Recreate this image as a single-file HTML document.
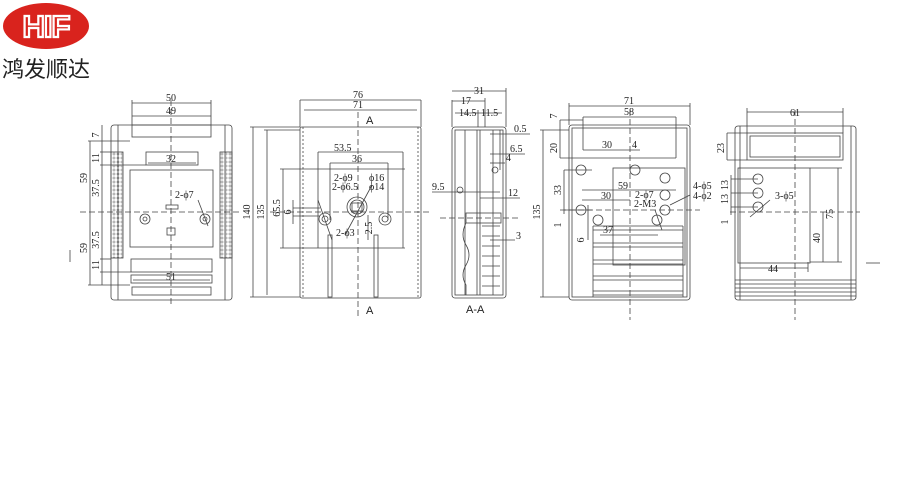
<!DOCTYPE html>
<html><head><meta charset="utf-8"><style>
html,body{margin:0;padding:0;background:#fff;width:900px;height:500px;overflow:hidden}
svg{display:block}
text{font-family:"Liberation Serif","Noto Serif CJK SC",serif;font-size:10px;fill:#222}
</style></head><body>
<svg width="900" height="500" viewBox="0 0 900 500" xmlns="http://www.w3.org/2000/svg">
<defs>
<pattern id="dots" width="4" height="4" patternUnits="userSpaceOnUse"><circle cx="2" cy="2" r="1.1" fill="none" stroke="#555" stroke-width="0.5"/></pattern>
</defs>
<!-- logo -->
<ellipse cx="46" cy="26" rx="43" ry="23" fill="#d9231d"/>
<text x="46" y="37" text-anchor="middle" style="font-family:'Liberation Sans',sans-serif;font-size:31px;font-weight:bold;fill:#d9231d;stroke:#fff;stroke-width:2.2;letter-spacing:-1px">HIF</text>
<text x="2" y="77" style="font-family:'Liberation Sans','Noto Sans CJK SC',sans-serif;font-size:22px;fill:#222">鸿发顺达</text>

<g fill="none" stroke="#444" stroke-width="0.8">
<!-- VIEW 1 -->
<rect x="111" y="125" width="121" height="175" rx="3"/>
<line x1="118" y1="125" x2="118" y2="300"/><line x1="225" y1="125" x2="225" y2="300"/>
<rect x="132" y="125" width="79" height="12"/>
<rect x="111" y="152" width="12" height="106" fill="url(#dots)"/>
<rect x="220" y="152" width="12" height="106" fill="url(#dots)"/>
<rect x="146" y="152" width="52" height="13"/>
<rect x="130" y="170" width="83" height="77"/>
<rect x="131" y="259" width="81" height="13"/>
<rect x="131" y="275" width="81" height="8"/>
<rect x="132" y="287" width="79" height="8"/>
<circle cx="145" cy="219" r="5"/><circle cx="145" cy="219" r="2"/>
<circle cx="205" cy="219" r="5"/><circle cx="205" cy="219" r="2"/>
<rect x="166" y="205" width="12" height="4"/><rect x="167" y="228" width="8" height="7"/>
<line x1="171" y1="100" x2="171" y2="305" stroke-dasharray="6,3"/>
<line x1="80" y1="212" x2="240" y2="212" stroke-dasharray="6,3"/>
<line x1="132" y1="103" x2="211" y2="103"/><line x1="132" y1="116" x2="211" y2="116"/>
<line x1="132" y1="100" x2="132" y2="125"/><line x1="211" y1="100" x2="211" y2="125"/>
<line x1="90" y1="141" x2="90" y2="285"/><line x1="102" y1="125" x2="102" y2="285"/>
<line x1="88" y1="141" x2="130" y2="141"/><line x1="88" y1="285" x2="130" y2="285"/>
<line x1="100" y1="152" x2="111" y2="152"/><line x1="100" y1="165" x2="146" y2="165"/>
<line x1="100" y1="259" x2="111" y2="259"/><line x1="100" y1="272" x2="131" y2="272"/>
<line x1="148" y1="163" x2="196" y2="163"/><line x1="133" y1="280" x2="210" y2="280"/>
<line x1="198" y1="200" x2="208" y2="226"/>

<!-- VIEW 2 -->
<rect x="300" y="127" width="121" height="171" rx="2"/>
<line x1="303" y1="127" x2="303" y2="298" stroke-dasharray="2,2"/><line x1="418" y1="127" x2="418" y2="298" stroke-dasharray="2,2"/>
<line x1="300" y1="100" x2="300" y2="127"/><line x1="421" y1="100" x2="421" y2="127"/>
<line x1="300" y1="100" x2="421" y2="100"/><line x1="304" y1="110" x2="417" y2="110"/>
<line x1="253" y1="127" x2="253" y2="297"/><line x1="267" y1="130" x2="267" y2="295"/>
<line x1="250" y1="127" x2="300" y2="127"/><line x1="264" y1="130" x2="300" y2="130"/><line x1="250" y1="297" x2="300" y2="297"/>
<line x1="358" y1="112" x2="358" y2="318" stroke-dasharray="6,3"/>
<line x1="270" y1="212" x2="430" y2="212" stroke-dasharray="6,3"/>
<line x1="318" y1="152" x2="403" y2="152"/><line x1="318" y1="152" x2="318" y2="248"/><line x1="403" y1="152" x2="403" y2="248"/>
<line x1="330" y1="163" x2="388" y2="163"/><line x1="330" y1="163" x2="330" y2="220"/><line x1="388" y1="163" x2="388" y2="220"/>
<line x1="280" y1="169" x2="405" y2="169"/><line x1="280" y1="248" x2="405" y2="248"/><line x1="283" y1="169" x2="283" y2="248"/>
<line x1="293" y1="208" x2="320" y2="208"/><line x1="293" y1="216" x2="320" y2="216"/><line x1="293" y1="200" x2="293" y2="224"/>
<circle cx="325" cy="219" r="6"/><circle cx="325" cy="219" r="3"/>
<circle cx="385" cy="219" r="6"/><circle cx="385" cy="219" r="3"/>
<circle cx="357" cy="207" r="10"/><circle cx="357" cy="207" r="7"/><rect x="352" y="203" width="10" height="8"/>
<rect x="328" y="235" width="4" height="62"/><rect x="374" y="235" width="4" height="62"/>
<line x1="318" y1="200" x2="332" y2="240"/><line x1="345" y1="235" x2="372" y2="185"/>
<line x1="368" y1="215" x2="368" y2="240"/>

<!-- VIEW 3 A-A -->
<rect x="452" y="127" width="54" height="171" rx="3"/>
<rect x="455" y="130" width="48" height="165"/>
<line x1="465" y1="130" x2="465" y2="295"/><line x1="477" y1="130" x2="477" y2="295"/><line x1="480" y1="130" x2="480" y2="295"/>
<line x1="493" y1="130" x2="493" y2="295"/><line x1="500" y1="130" x2="500" y2="170"/>
<path d="M452 100V127M506 88V127M485 98V127M478 110V127"/>
<line x1="452" y1="91" x2="506" y2="91"/><line x1="452" y1="101" x2="485" y2="101"/><line x1="455" y1="113" x2="502" y2="113"/>
<rect x="466" y="213" width="35" height="10"/>
<path d="M466 223Q460 235 466 245Q472 255 466 265Q460 275 466 285V295"/>
<path d="M482 226H500M482 236H500M482 246H500M482 256H500M482 266H500M482 276H500M482 286H500"/>
<circle cx="495" cy="170" r="3"/><circle cx="460" cy="190" r="3"/>
<line x1="432" y1="192" x2="500" y2="192"/><line x1="480" y1="198" x2="520" y2="198"/>
<line x1="490" y1="134" x2="530" y2="134"/><line x1="490" y1="154" x2="525" y2="154"/><line x1="490" y1="163" x2="505" y2="163"/>
<line x1="490" y1="240" x2="515" y2="240"/><line x1="440" y1="218" x2="520" y2="218" stroke-dasharray="6,3"/>

<!-- VIEW 4 -->
<rect x="569" y="125" width="121" height="175" rx="3"/>
<rect x="572" y="128" width="115" height="169"/>
<line x1="569" y1="106" x2="690" y2="106"/><line x1="583" y1="117" x2="676" y2="117"/>
<line x1="569" y1="103" x2="569" y2="125"/><line x1="690" y1="103" x2="690" y2="125"/>
<line x1="583" y1="117" x2="583" y2="150"/><line x1="676" y1="117" x2="676" y2="158"/>
<line x1="543" y1="130" x2="543" y2="297"/><line x1="540" y1="130" x2="569" y2="130"/><line x1="540" y1="297" x2="569" y2="297"/>
<line x1="560" y1="120" x2="583" y2="120"/><line x1="560" y1="158" x2="676" y2="158"/><line x1="560" y1="120" x2="560" y2="158"/>
<line x1="564" y1="170" x2="592" y2="170"/><line x1="564" y1="210" x2="592" y2="210"/><line x1="564" y1="170" x2="564" y2="214"/>
<line x1="583" y1="150" x2="640" y2="150"/><line x1="582" y1="190" x2="676" y2="190"/><line x1="582" y1="200" x2="630" y2="200"/>
<line x1="600" y1="235" x2="658" y2="235"/><line x1="588" y1="205" x2="588" y2="240"/>
<line x1="630" y1="110" x2="630" y2="320" stroke-dasharray="6,3"/>
<line x1="560" y1="210" x2="700" y2="210" stroke-dasharray="6,3"/>
<rect x="613" y="168" width="72" height="97"/>
<circle cx="581" cy="170" r="5"/><circle cx="635" cy="170" r="5"/><circle cx="665" cy="178" r="5"/>
<circle cx="665" cy="195" r="5"/><circle cx="665" cy="210" r="5"/><circle cx="581" cy="210" r="5"/>
<circle cx="598" cy="220" r="5"/><circle cx="657" cy="220" r="5"/>
<path d="M593 226H683M593 230H683M593 243H683M593 247H683M593 260H683M593 264H683M593 276H683M593 280H683M593 291H683M593 295H683"/>
<line x1="593" y1="226" x2="593" y2="297"/><line x1="683" y1="226" x2="683" y2="297"/>
<line x1="655" y1="210" x2="662" y2="230"/><line x1="670" y1="205" x2="690" y2="195"/>

<!-- VIEW 5 -->
<rect x="735" y="126" width="121" height="174" rx="3"/>
<line x1="740" y1="126" x2="740" y2="300"/><line x1="851" y1="126" x2="851" y2="300"/>
<rect x="747" y="133" width="96" height="27"/><rect x="750" y="136" width="90" height="21"/>
<line x1="747" y1="112" x2="843" y2="112"/><line x1="747" y1="108" x2="747" y2="133"/><line x1="843" y1="108" x2="843" y2="133"/>
<line x1="727" y1="133" x2="747" y2="133"/><line x1="727" y1="160" x2="747" y2="160"/><line x1="727" y1="133" x2="727" y2="160"/>
<rect x="738" y="168" width="72" height="95"/>
<line x1="810" y1="168" x2="842" y2="168"/><line x1="810" y1="262" x2="842" y2="262"/><line x1="838" y1="168" x2="838" y2="262"/><line x1="823" y1="212" x2="823" y2="262"/>
<line x1="740" y1="268" x2="808" y2="268"/><line x1="808" y1="262" x2="808" y2="272"/>
<path d="M735 280H856M735 284H856M735 288H856M735 292H856M735 296H856"/>
<circle cx="758" cy="179" r="5"/><circle cx="758" cy="193" r="5"/><circle cx="758" cy="207" r="5"/>
<line x1="731" y1="179" x2="758" y2="179"/><line x1="731" y1="193" x2="758" y2="193"/><line x1="731" y1="207" x2="758" y2="207"/><line x1="731" y1="175" x2="731" y2="215"/>
<line x1="795" y1="110" x2="795" y2="320" stroke-dasharray="6,3"/>
<line x1="730" y1="212" x2="860" y2="212" stroke-dasharray="6,3"/>
<line x1="750" y1="217" x2="770" y2="200"/>
<line x1="866" y1="263" x2="880" y2="263"/>
<line x1="70" y1="250" x2="70" y2="262"/>
</g>

<g>
<text x="171" y="101" text-anchor="middle">50</text><text x="171" y="114" text-anchor="middle">49</text>
<text x="171" y="162" text-anchor="middle">32</text><text x="171" y="280" text-anchor="middle">51</text>
<text x="175" y="198">2-ϕ7</text>
<g text-anchor="middle">
<text transform="translate(99,135) rotate(-90)">7</text>
<text transform="translate(99,158) rotate(-90)">11</text>
<text transform="translate(87,178) rotate(-90)">59</text>
<text transform="translate(99,188) rotate(-90)">37.5</text>
<text transform="translate(99,240) rotate(-90)">37.5</text>
<text transform="translate(87,248) rotate(-90)">59</text>
<text transform="translate(99,265) rotate(-90)">11</text>
<text transform="translate(250,212) rotate(-90)">140</text>
<text transform="translate(264,212) rotate(-90)">135</text>
<text transform="translate(280,208) rotate(-90)">65.5</text>
<text transform="translate(291,212) rotate(-90)">6</text>
<text transform="translate(372,228) rotate(-90)">2.5</text>
<text transform="translate(540,212) rotate(-90)">135</text>
<text transform="translate(557,116) rotate(-90)">7</text>
<text transform="translate(557,148) rotate(-90)">20</text>
<text transform="translate(561,190) rotate(-90)">33</text>
<text transform="translate(561,225) rotate(-90)">1</text>
<text transform="translate(584,240) rotate(-90)">6</text>
<text transform="translate(724,148) rotate(-90)">23</text>
<text transform="translate(728,185) rotate(-90)">13</text>
<text transform="translate(728,199) rotate(-90)">13</text>
<text transform="translate(728,222) rotate(-90)">1</text>
<text transform="translate(833,214) rotate(-90)">75</text>
<text transform="translate(820,238) rotate(-90)">40</text>
</g>
<text x="358" y="98" text-anchor="middle">76</text><text x="358" y="108" text-anchor="middle">71</text>
<text x="366" y="124" style="font-family:'Liberation Sans',sans-serif;font-size:11px">A</text>
<text x="366" y="314" style="font-family:'Liberation Sans',sans-serif;font-size:11px">A</text>
<text x="334" y="151">53.5</text><text x="352" y="162">36</text>
<text x="334" y="181">2-ϕ9</text><text x="332" y="190">2-ϕ6.5</text>
<text x="369" y="181">ϕ16</text><text x="369" y="190">ϕ14</text>
<text x="336" y="236">2-ϕ3</text>
<text x="479" y="94" text-anchor="middle">31</text><text x="466" y="104" text-anchor="middle">17</text>
<text x="459" y="116">14.5</text><text x="481" y="116">11.5</text>
<text x="514" y="132">0.5</text><text x="510" y="152">6.5</text><text x="506" y="161">4</text>
<text x="432" y="190">9.5</text><text x="508" y="196">12</text><text x="516" y="239">3</text>
<text x="466" y="313" style="font-family:'Liberation Sans',sans-serif;font-size:11px">A-A</text>
<text x="629" y="104" text-anchor="middle">71</text><text x="629" y="115" text-anchor="middle">58</text>
<text x="602" y="148">30</text><text x="632" y="148">4</text>
<text x="618" y="189">59</text><text x="601" y="199">30</text><text x="603" y="233">37</text>
<text x="635" y="198">2-ϕ7</text><text x="634" y="207">2-M3</text>
<text x="693" y="189">4-ϕ5</text><text x="693" y="199">4-ϕ2</text>
<text x="795" y="116" text-anchor="middle">61</text>
<text x="775" y="199">3-ϕ5</text><text x="768" y="272">44</text>
</g>
</svg>
</body></html>
